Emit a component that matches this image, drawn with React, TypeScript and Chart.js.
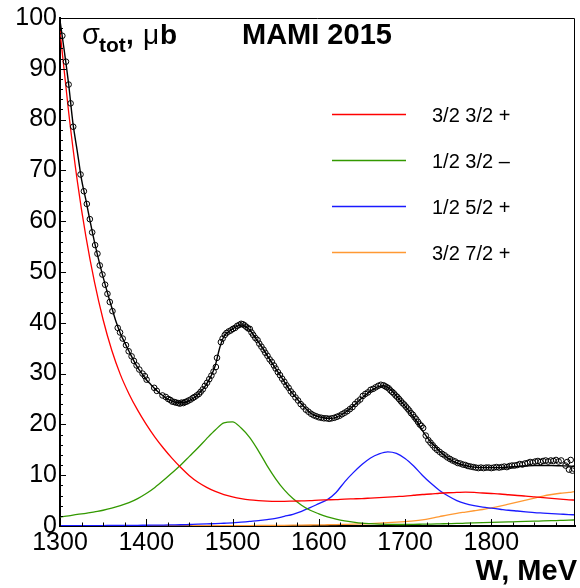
import React, { useEffect, useRef } from "react";
import { Chart, registerables } from "chart.js";

Chart.register(...registerables);

const FONT = "'Liberation Sans', Arial, Helvetica, sans-serif";

// Axis ranges and tick marks
const X_MIN = 1300;
const X_MAX = 1897;
const Y_MIN = 0;
const Y_MAX = 100;
const X_TICK_LABELS = [1300, 1400, 1500, 1600, 1700, 1800];
const Y_TICK_LABELS = [0, 10, 20, 30, 40, 50, 60, 70, 80, 90, 100];
const X_MAJOR_STEP = 100;
const X_MINOR_STEP = 25;
const Y_MAJOR_STEP = 10;
const Y_MINOR_STEP = 2;

// Measured total cross section (open circles): [W (MeV), sigma (µb)]
const DATA_POINTS: [number, number][] = [
  [1302.7, 96.5], [1306.9, 91.4], [1310.0, 86.9], [1312.3, 83.2], [1315.3, 78.6],
  [1323.8, 69.2], [1327.7, 65.9], [1331.1, 63.4], [1334.6, 60.4], [1337.3, 57.8],
  [1340.7, 55.3], [1343.4, 53.6], [1346.1, 51.3], [1349.2, 49.5], [1352.3, 47.5],
  [1355.0, 45.7], [1357.7, 44.1], [1360.8, 42.3], [1366.9, 39.0], [1369.6, 38.1],
  [1372.7, 36.9], [1376.5, 35.6], [1379.6, 34.4], [1383.0, 33.4], [1385.7, 32.5],
  [1388.8, 31.6], [1391.9, 30.8], [1395.7, 30.0], [1398.4, 29.5], [1400.4, 28.8],
  [1409.2, 27.2], [1412.2, 26.6], [1418.8, 25.7], [1422.6, 25.4], [1425.5, 25.0],
  [1428.0, 24.8], [1430.0, 24.5], [1432.5, 24.4], [1434.5, 24.3], [1437.0, 24.2],
  [1439.0, 24.1], [1441.0, 24.3], [1443.0, 24.2], [1445.0, 24.4], [1447.0, 24.5],
  [1449.0, 24.7], [1451.5, 24.9], [1454.0, 25.2], [1456.0, 25.4], [1458.5, 25.7],
  [1461.0, 26.0], [1463.0, 26.4], [1465.5, 26.9], [1468.0, 27.6], [1470.5, 28.2],
  [1473.0, 28.9], [1475.5, 29.6], [1478.0, 30.4], [1480.7, 31.3], [1482.0, 33.1],
  [1486.5, 36.2], [1488.5, 36.9], [1491.0, 37.6], [1493.0, 38.0], [1495.5, 38.3],
  [1498.0, 38.5], [1500.5, 38.8], [1503.0, 39.0], [1505.5, 39.4], [1508.0, 39.6],
  [1510.0, 39.8], [1512.0, 39.7], [1514.0, 39.5], [1516.0, 39.2], [1518.0, 38.9],
  [1520.0, 38.8], [1522.0, 38.1], [1524.0, 37.6], [1526.5, 37.0], [1529.0, 36.6],
  [1531.0, 35.9], [1533.5, 35.3], [1536.0, 34.7], [1538.0, 34.1], [1540.5, 33.5],
  [1543.0, 32.8], [1545.5, 32.3], [1548.0, 31.6], [1550.0, 31.0], [1552.5, 30.3],
  [1555.0, 29.7], [1557.5, 29.0], [1560.0, 28.4], [1562.5, 27.7], [1565.0, 27.2],
  [1567.5, 26.5], [1570.0, 26.0], [1573.0, 25.3], [1576.0, 24.7], [1579.0, 24.0],
  [1582.0, 23.5], [1585.0, 22.9], [1588.0, 22.5], [1591.0, 22.1], [1594.0, 21.8],
  [1597.0, 21.6], [1600.0, 21.4], [1603.0, 21.3], [1606.0, 21.2], [1609.0, 21.2],
  [1612.0, 21.1], [1615.0, 21.2], [1618.0, 21.3], [1621.0, 21.5], [1624.0, 21.7],
  [1627.0, 22.0], [1630.0, 22.3], [1633.0, 22.6], [1636.0, 23.0], [1639.0, 23.4],
  [1642.0, 24.0], [1645.0, 24.5], [1648.0, 24.9], [1651.0, 25.6], [1654.0, 26.0],
  [1657.0, 26.3], [1660.0, 26.8], [1663.0, 27.0], [1666.0, 27.3], [1669.0, 27.6],
  [1672.0, 27.8], [1675.0, 27.7], [1677.0, 27.5], [1679.0, 27.3], [1681.0, 27.1],
  [1683.0, 26.7], [1685.0, 26.4], [1687.0, 26.1], [1689.0, 25.7], [1691.0, 25.4],
  [1693.0, 25.0], [1695.0, 24.6], [1697.0, 24.2], [1699.0, 23.9], [1701.0, 23.5],
  [1703.0, 23.1], [1705.0, 22.7], [1707.0, 22.2], [1709.0, 21.9], [1711.0, 21.4],
  [1713.0, 21.0], [1715.0, 20.5], [1717.0, 20.0], [1719.0, 19.7], [1721.0, 19.3],
  [1724.0, 17.8], [1727.0, 16.9], [1729.5, 16.4], [1732.0, 15.9], [1734.5, 15.4],
  [1737.0, 15.0], [1740.0, 14.6], [1743.0, 14.2], [1746.0, 13.9], [1749.0, 13.5],
  [1752.0, 13.2], [1755.0, 12.9], [1758.0, 12.7], [1761.0, 12.4], [1764.0, 12.3],
  [1767.0, 12.1], [1770.0, 12.0], [1773.0, 11.8], [1776.0, 11.7], [1779.0, 11.6],
  [1782.0, 11.5], [1785.0, 11.4], [1788.0, 11.5], [1791.0, 11.4], [1794.0, 11.5],
  [1797.0, 11.5], [1800.0, 11.4], [1803.0, 11.5], [1806.0, 11.6], [1809.0, 11.5],
  [1812.0, 11.6], [1815.0, 11.7], [1818.0, 11.6], [1821.0, 11.8], [1824.0, 11.9],
  [1827.0, 11.9], [1830.0, 12.0], [1833.0, 12.2], [1836.0, 12.1], [1839.0, 12.3],
  [1842.0, 12.4], [1845.0, 12.6], [1848.0, 12.5], [1851.0, 12.7], [1854.0, 12.8],
  [1857.0, 12.6], [1860.0, 12.8], [1863.0, 12.9], [1866.0, 12.7], [1869.0, 12.9],
  [1872.0, 12.8], [1875.0, 13.0], [1878.0, 12.7], [1881.0, 12.9], [1886.0, 11.9],
  [1888.0, 12.6], [1890.0, 11.1], [1892.0, 13.0], [1894.0, 10.9], [1895.5, 11.3],
];

// Full fit curve (black line): [W, sigma]
const FIT_CURVE: [number, number][] = [
  [1300, 99.5], [1305, 93.5], [1310, 87.0], [1315, 79.3], [1320, 73.8],
  [1325, 68.2], [1330, 64.2], [1335, 59.9], [1340, 55.9], [1345, 52.3],
  [1350, 49.0], [1355, 45.9], [1360, 43.0], [1365, 40.2], [1370, 37.9],
  [1375, 36.1], [1380, 34.4], [1385, 32.7], [1390, 31.2], [1395, 30.0],
  [1400, 28.8], [1405, 27.9], [1410, 27.0], [1415, 26.2], [1420, 25.6],
  [1425, 25.0], [1430, 24.6], [1435, 24.35], [1440, 24.25], [1445, 24.35],
  [1450, 24.7], [1455, 25.2], [1460, 25.9], [1465, 26.8], [1470, 28.0],
  [1475, 29.5], [1480, 31.6], [1485, 35.0], [1490, 37.3], [1495, 38.2],
  [1500, 38.8], [1505, 39.3], [1510, 39.6], [1515, 39.3], [1520, 38.6],
  [1525, 37.4], [1530, 36.2], [1535, 35.0], [1540, 33.6], [1545, 32.3],
  [1550, 31.0], [1555, 29.7], [1560, 28.4], [1565, 27.1], [1570, 26.0],
  [1575, 25.0], [1580, 24.0], [1585, 23.1], [1590, 22.3], [1595, 21.8],
  [1600, 21.5], [1605, 21.3], [1610, 21.2], [1615, 21.2], [1620, 21.4],
  [1625, 21.8], [1630, 22.3], [1635, 22.9], [1640, 23.6], [1645, 24.4],
  [1650, 25.2], [1655, 25.9], [1660, 26.6], [1665, 27.1], [1670, 27.5],
  [1675, 27.6], [1680, 27.3], [1685, 26.6], [1690, 25.6], [1695, 24.6],
  [1700, 23.6], [1705, 22.6], [1710, 21.4], [1715, 20.3], [1720, 18.8],
  [1725, 17.6], [1730, 16.5], [1735, 15.6], [1740, 14.7], [1745, 14.0],
  [1750, 13.3], [1755, 12.8], [1760, 12.4], [1770, 11.9], [1780, 11.6],
  [1790, 11.5], [1800, 11.5], [1810, 11.5], [1820, 11.6], [1830, 11.7],
  [1840, 11.8], [1850, 11.9], [1860, 11.9], [1870, 11.9], [1880, 11.85],
  [1890, 11.8], [1897, 11.7],
];

// Partial-wave contributions on a common W grid
const COMP_W = [
  1300, 1310, 1320, 1330, 1340, 1350, 1360, 1370, 1380, 1390,
  1400, 1410, 1420, 1430, 1440, 1450, 1460, 1470, 1480, 1490,
  1500, 1510, 1520, 1530, 1540, 1550, 1560, 1570, 1580, 1590,
  1600, 1610, 1620, 1630, 1640, 1650, 1660, 1670, 1680, 1690,
  1700, 1710, 1720, 1730, 1740, 1750, 1760, 1770, 1780, 1790,
  1800, 1810, 1820, 1830, 1840, 1850, 1860, 1870, 1880, 1890,
  1897,
];
const RED_32_32P = [
  97.5, 81.5, 68.0, 57.0, 48.0, 40.6, 34.6, 29.8, 26.0, 22.8,
  20.0, 17.5, 15.3, 13.3, 11.5, 9.9, 8.6, 7.6, 6.8, 6.2,
  5.75, 5.4, 5.15, 5.0, 4.9, 4.85, 4.85, 4.9, 4.95, 5.0,
  5.1, 5.15, 5.2, 5.3, 5.35, 5.4, 5.5, 5.6, 5.7, 5.8,
  5.9, 6.05, 6.2, 6.3, 6.45, 6.55, 6.6, 6.65, 6.6, 6.5,
  6.4, 6.3, 6.15, 6.0, 5.9, 5.75, 5.6, 5.45, 5.3, 5.15,
  5.1,
];
const GREEN_12_32M = [
  1.8, 2.0, 2.3, 2.5, 2.8, 3.1, 3.5, 4.0, 4.6, 5.4,
  6.4, 7.6, 9.0, 10.5, 12.0, 13.7, 15.4, 17.2, 18.9, 20.3,
  20.5, 19.3, 17.4, 14.8, 11.9, 9.3, 7.1, 5.4, 4.1, 3.1,
  2.4, 1.8, 1.35, 1.0, 0.75, 0.55, 0.45, 0.38, 0.33, 0.3,
  0.3, 0.32, 0.35, 0.38, 0.42, 0.46, 0.5, 0.55, 0.6, 0.65,
  0.7, 0.75, 0.8, 0.85, 0.9, 0.95, 1.0, 1.05, 1.1, 1.15,
  1.2,
];
const BLUE_12_52P = [
  0.05, 0.05, 0.06, 0.07, 0.08, 0.09, 0.1, 0.11, 0.12, 0.14,
  0.15, 0.17, 0.19, 0.22, 0.25, 0.3, 0.35, 0.41, 0.48, 0.54,
  0.6, 0.75, 0.9, 1.05, 1.25, 1.5, 1.9, 2.3, 2.9, 3.6,
  4.4, 5.2, 6.6, 8.7, 10.5, 12.1, 13.4, 14.2, 14.6, 14.3,
  13.3, 11.8, 10.0, 8.4, 7.0, 5.9, 5.0, 4.4, 4.0, 3.7,
  3.5, 3.3, 3.1, 2.95, 2.8, 2.65, 2.55, 2.45, 2.35, 2.25,
  2.2,
];
const ORANGE_32_72P = [
  0.0, 0.0, 0.0, 0.0, 0.0, 0.01, 0.01, 0.01, 0.02, 0.02,
  0.02, 0.03, 0.03, 0.03, 0.04, 0.04, 0.05, 0.05, 0.06, 0.06,
  0.07, 0.08, 0.09, 0.1, 0.11, 0.12, 0.14, 0.16, 0.18, 0.2,
  0.22, 0.25, 0.28, 0.32, 0.36, 0.42, 0.48, 0.56, 0.65, 0.75,
  0.87, 1.0, 1.2, 1.5, 1.85, 2.2, 2.5, 2.75, 3.0, 3.25,
  3.55, 3.9, 4.3, 4.7, 5.1, 5.5, 5.9, 6.2, 6.45, 6.6,
  6.8,
];

const LEGEND_LABELS = ["3/2 3/2 +", "1/2 3/2 \u2013", "1/2 5/2 +", "3/2 7/2 +"];
const COLORS = ["#ff0000", "#339900", "#1a1aff", "#ff9933"];

const zip = (xs: number[], ys: number[]) => xs.map((x, i) => ({ x, y: ys[i] }));
const pairs = (arr: [number, number][]) => arr.map(([x, y]) => ({ x, y }));

const overlayPlugin = {
  id: "overlay",
  afterDraw(chart: any) {
    const { ctx, chartArea: a } = chart;
    const xs = chart.scales.x;
    const ys = chart.scales.y;
    ctx.save();
    ctx.strokeStyle = "#000";
    ctx.lineWidth = 1;
    // Frame top & right
    ctx.beginPath();
    ctx.moveTo(a.left, Math.round(a.top) + 0.5);
    ctx.lineTo(Math.round(a.right) - 0.5, Math.round(a.top) + 0.5);
    ctx.lineTo(Math.round(a.right) - 0.5, a.bottom);
    ctx.stroke();
    // X ticks (inside)
    ctx.beginPath();
    for (let v = X_MIN; v <= X_MAX; v += X_MINOR_STEP) {
      const px = Math.round(xs.getPixelForValue(v)) + 0.5;
      const len = v % X_MAJOR_STEP === 0 ? 7 : 3.5;
      ctx.moveTo(px, a.bottom);
      ctx.lineTo(px, a.bottom - len);
    }
    // Y ticks (inside)
    for (let v = Y_MIN; v <= Y_MAX; v += Y_MINOR_STEP) {
      const py = Math.round(ys.getPixelForValue(v)) + 0.5;
      const len = v % Y_MAJOR_STEP === 0 ? 6 : 3;
      ctx.moveTo(a.left, py);
      ctx.lineTo(a.left + len, py);
    }
    ctx.stroke();

    // Legend
    const legendY = [114, 160, 206, 252];
    ctx.font = `20px ${FONT}`;
    ctx.textBaseline = "middle";
    ctx.textAlign = "left";
    LEGEND_LABELS.forEach((label, i) => {
      ctx.strokeStyle = COLORS[i];
      ctx.lineWidth = 1.5;
      ctx.beginPath();
      ctx.moveTo(332, legendY[i] + 0.5);
      ctx.lineTo(406, legendY[i] + 0.5);
      ctx.stroke();
      ctx.fillStyle = "#000";
      ctx.fillText(label, 432, legendY[i] + 2);
    });

    // Title texts
    ctx.fillStyle = "#000";
    ctx.textBaseline = "alphabetic";
    ctx.font = `bold 29px ${FONT}`;
    ctx.fillText("MAMI 2015", 242, 44);

    ctx.font = `29px ${FONT}`;
    ctx.fillText("\u03c3", 82, 44);
    ctx.font = `bold 21px ${FONT}`;
    ctx.fillText("tot", 99, 52);
    ctx.font = `bold 28px ${FONT}`;
    ctx.fillText(",", 126, 44);
    ctx.font = `28px ${FONT}`;
    ctx.fillText("\u03bc", 143, 44);
    ctx.font = `bold 28px ${FONT}`;
    ctx.fillText("b", 160, 44);

    ctx.font = `bold 29px ${FONT}`;
    ctx.textAlign = "right";
    ctx.fillText("W, MeV", 577, 580);
    ctx.restore();
  },
};

export default function App() {
  const canvasRef = useRef<HTMLCanvasElement | null>(null);

  useEffect(() => {
    if (!canvasRef.current) return;
    const lineDs = (label: string, ys: number[], color: string) => ({
      type: "line" as const,
      label,
      data: zip(COMP_W, ys),
      borderColor: color,
      borderWidth: 1.3,
      pointRadius: 0,
      fill: false,
      cubicInterpolationMode: "monotone" as const,
      order: 3,
    });
    const chart = new Chart(canvasRef.current, {
      type: "line",
      data: {
        datasets: [
          {
            label: "data",
            data: pairs(DATA_POINTS),
            showLine: false,
            pointRadius: 2.8,
            pointBorderWidth: 1,
            pointBorderColor: "#000",
            pointBackgroundColor: "rgba(255,255,255,0)",
            borderColor: "#000",
            order: 1,
          },
          {
            label: "fit",
            data: pairs(FIT_CURVE),
            borderColor: "#000",
            borderWidth: 1.4,
            pointRadius: 0,
            cubicInterpolationMode: "monotone",
            order: 2,
          },
          lineDs(LEGEND_LABELS[0], RED_32_32P, COLORS[0]),
          lineDs(LEGEND_LABELS[1], GREEN_12_32M, COLORS[1]),
          lineDs(LEGEND_LABELS[2], BLUE_12_52P, COLORS[2]),
          lineDs(LEGEND_LABELS[3], ORANGE_32_72P, COLORS[3]),
        ] as any,
      },
      options: {
        animation: false,
        responsive: false,
        devicePixelRatio: 1,
        events: [],
        layout: { padding: { top: 17, right: 2, left: 0, bottom: 0 } },
        plugins: {
          legend: { display: false },
          tooltip: { enabled: false },
          title: { display: false },
        },
        scales: {
          x: {
            type: "linear",
            min: X_MIN,
            max: X_MAX,
            grid: { display: false, drawTicks: false },
            border: { display: true, color: "#000", width: 2 },
            afterBuildTicks: (s: any) => {
              s.ticks = X_TICK_LABELS.map((v) => ({ value: v }));
            },
            ticks: {
              autoSkip: false,
              maxRotation: 0,
              padding: 2,
              color: "#000",
              font: { family: FONT, size: 25 },
              callback: (v: any) => String(v),
            },
            afterFit: (s: any) => {
              s.height = 62;
            },
          },
          y: {
            type: "linear",
            min: Y_MIN,
            max: Y_MAX,
            grid: { display: false, drawTicks: false },
            border: { display: true, color: "#000", width: 2 },
            afterBuildTicks: (s: any) => {
              s.ticks = Y_TICK_LABELS.map((v) => ({ value: v }));
            },
            ticks: {
              autoSkip: false,
              padding: 3,
              color: "#000",
              font: { family: FONT, size: 25 },
              callback: (v: any) => String(v),
            },
            afterFit: (s: any) => {
              s.width = 60;
            },
          },
        },
      } as any,
      plugins: [overlayPlugin],
    });
    return () => chart.destroy();
  }, []);

  return (
    <div style={{ position: "fixed", left: 0, top: 0, width: 580, height: 588, background: "#fff" }}>
      <canvas ref={canvasRef} width={580} height={588} style={{ display: "block" }} />
    </div>
  );
}
